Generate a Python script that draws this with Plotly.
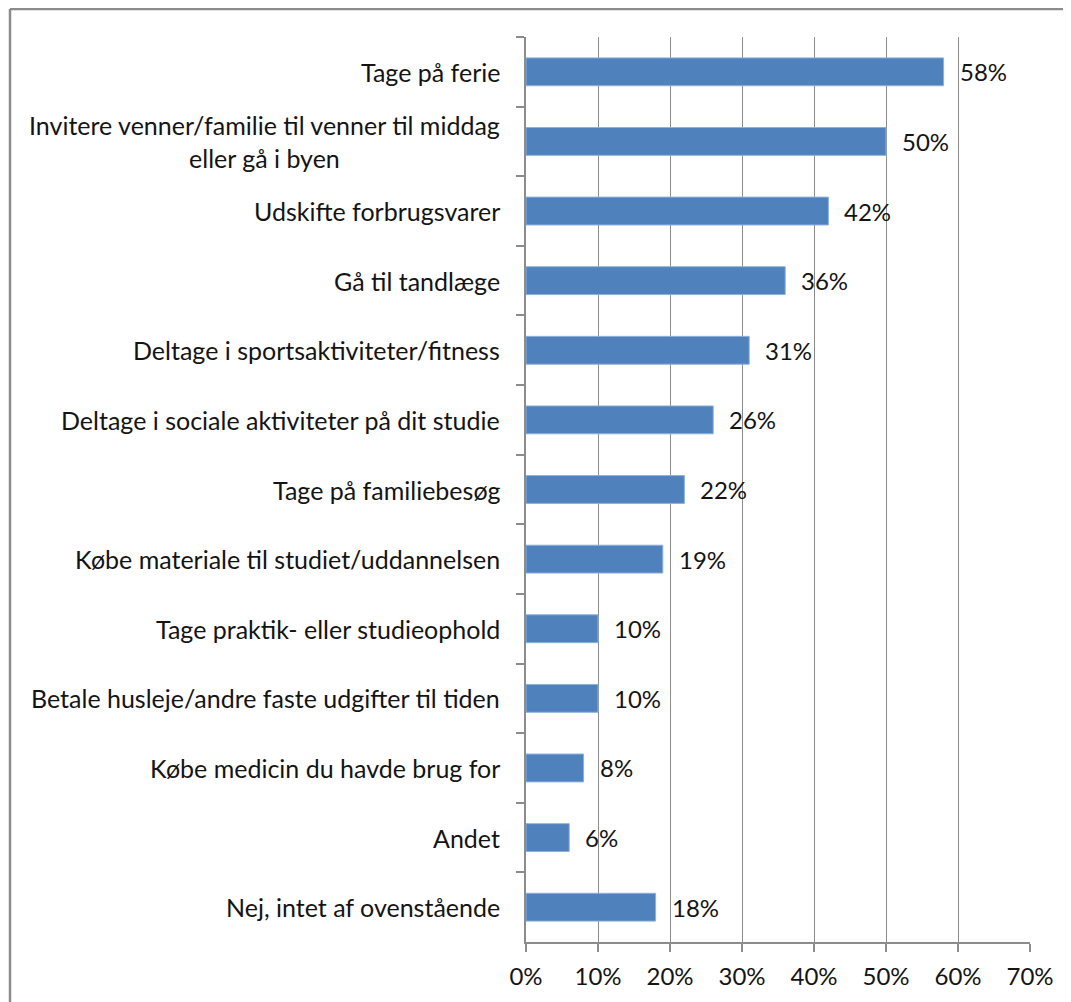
import plotly.graph_objects as go

categories = [
    "Tage på ferie",
    "Invitere venner/familie til venner til middag<br>eller gå i byen",
    "Udskifte forbrugsvarer",
    "Gå til tandlæge",
    "Deltage i sportsaktiviteter/fitness",
    "Deltage i sociale aktiviteter på dit studie",
    "Tage på familiebesøg",
    "Købe materiale til studiet/uddannelsen",
    "Tage praktik- eller studieophold",
    "Betale husleje/andre faste udgifter til tiden",
    "Købe medicin du havde brug for",
    "Andet",
    "Nej, intet af ovenstående",
]
values = [0.58, 0.50, 0.42, 0.36, 0.31, 0.26, 0.22, 0.19, 0.10, 0.10, 0.08, 0.06, 0.18]
value_labels = ["58%", "50%", "42%", "36%", "31%", "26%", "22%", "19%", "10%", "10%", "8%", "6%", "18%"]
x_ticks = [0, 0.1, 0.2, 0.3, 0.4, 0.5, 0.6, 0.7]
x_tick_labels = ["0%", "10%", "20%", "30%", "40%", "50%", "60%", "70%"]

FONT = "Lato"
TXT = "#141414"
GRID = "#8c8c8c"

fig = go.Figure()
fig.add_trace(go.Bar(
    y=categories,
    x=values,
    orientation="h",
    width=0.40,
    marker=dict(color="#4F81BD", line=dict(color="#8EB1DC", width=1)),
    hoverinfo="x+y",
))

annotations = []
for c in categories:
    annotations.append(dict(
        x=0, xref="paper", y=c, yref="y", text=c, showarrow=False,
        xanchor="right", yanchor="middle", align="center", xshift=-24,
        font=dict(family=FONT, size=25, color=TXT),
    ))
for c, v, lab in zip(categories, values, value_labels):
    annotations.append(dict(
        x=v, xref="x", y=c, yref="y", text=lab, showarrow=False,
        xanchor="left", yanchor="middle", xshift=14,
        font=dict(family=FONT, size=24, color=TXT),
    ))

# page body adds an 8px offset, so the figure is sized to compensate
W, H = 1063, 994
L, R, T, B = 518, 41, 29, 60
pw, ph = W - L - R, H - T - B
x0p = (2 - L) / pw
y0p = (H - B - 1) / ph
shapes = [
    dict(type="line", xref="paper", yref="paper", x0=x0p, x1=(W + 20 - L) / pw, y0=y0p, y1=y0p,
         line=dict(color="#8c8c8c", width=2.5)),
    dict(type="line", xref="paper", yref="paper", x0=x0p, x1=x0p, y0=y0p, y1=-(B + 20) / ph,
         line=dict(color="#8c8c8c", width=2.5)),
]

fig.update_layout(
    width=W, height=H,
    margin=dict(l=L, r=R, t=T, b=B),
    paper_bgcolor="white", plot_bgcolor="white",
    showlegend=False,
    annotations=annotations,
    shapes=shapes,
    bargap=0.6,
    xaxis=dict(
        range=[0, 0.7], tickvals=x_ticks, ticktext=x_tick_labels,
        showgrid=True, gridcolor=GRID, gridwidth=1,
        showline=True, linecolor=GRID, linewidth=1.5,
        ticks="outside", ticklen=8, tickcolor=GRID, tickwidth=1.5,
        ticklabelstandoff=4,
        tickfont=dict(family=FONT, size=24, color=TXT),
        zeroline=False, fixedrange=True,
    ),
    yaxis=dict(
        categoryorder="array", categoryarray=categories, autorange="reversed",
        showticklabels=False,
        showline=True, linecolor=GRID, linewidth=1.5,
        ticks="outside", ticklen=8, tickcolor=GRID, tickwidth=1.5,
        tickson="boundaries",
        showgrid=False, zeroline=False, fixedrange=True,
    ),
)

fig.write_html("out.html")
